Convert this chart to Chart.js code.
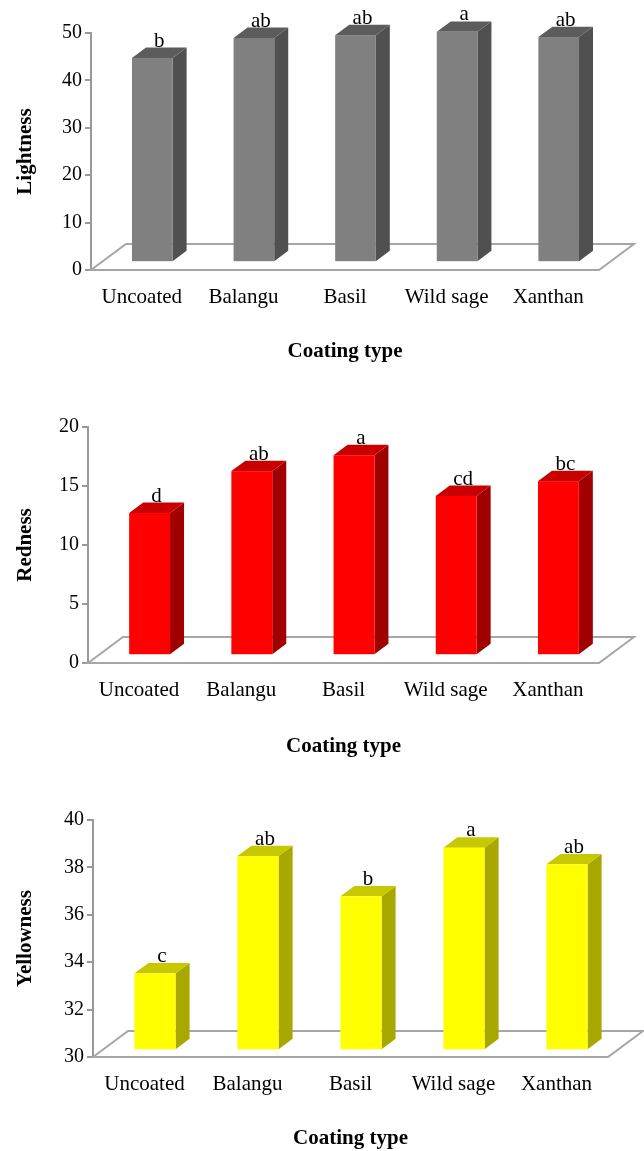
<!DOCTYPE html>
<html>
<head>
<meta charset="utf-8">
<script src="https://cdn.jsdelivr.net/npm/chart.js@4"></script>
<style>
  body { margin: 0; background: #fff; }
  .box { position: absolute; left: 0; width: 644px; }
</style>
</head>
<body>
<div class="box" style="top:0;height:383px"><canvas id="lightChart"></canvas></div>
<div class="box" style="top:383px;height:384px"><canvas id="redChart"></canvas></div>
<div class="box" style="top:767px;height:384px"><canvas id="yellowChart"></canvas></div>
<script>
const coatings = ["Uncoated", "Balangu", "Basil", "Wild sage", "Xanthan"];

const lightness = [43.1, 47.3, 47.9, 48.6, 47.5];
const lightnessLetters = ["b", "ab", "ab", "a", "ab"];

const redness = [12.05, 15.6, 16.95, 13.5, 14.75];
const rednessLetters = ["d", "ab", "a", "cd", "bc"];

const yellowness = [33.2, 38.15, 36.45, 38.5, 37.8];
const yellownessLetters = ["c", "ab", "b", "a", "ab"];

const SERIF = "'Liberation Serif', 'Times New Roman', serif";
Chart.defaults.font.family = SERIF;
Chart.defaults.color = "#000";

// floor depth, bars sit in the middle of it
const FLOOR_DX = 35, FLOOR_DY = -26;

const bars3d = {
  id: "bars3d",
  beforeDatasetsDraw(chart) {
    const { ctx, chartArea: a } = chart;
    ctx.save();
    ctx.beginPath();
    ctx.moveTo(a.left, a.bottom);
    ctx.lineTo(a.left + FLOOR_DX, a.bottom + FLOOR_DY);
    ctx.lineTo(a.right + FLOOR_DX, a.bottom + FLOOR_DY);
    ctx.lineTo(a.right, a.bottom);
    ctx.closePath();
    ctx.fillStyle = "#fff";
    ctx.fill();
    ctx.strokeStyle = "#a6a6a6";
    ctx.lineWidth = 2;
    ctx.stroke();
    ctx.restore();
  },
  afterDatasetsDraw(chart, args, opts) {
    const { ctx, chartArea: a } = chart;
    const ox = FLOOR_DX * 0.3, oy = FLOOR_DY * 0.3;
    const dx = FLOOR_DX * 0.4, dy = FLOOR_DY * 0.4;
    ctx.save();
    chart.getDatasetMeta(0).data.forEach((bar, i) => {
      const { x, y, base, width } = bar.getProps(["x", "y", "base", "width"], true);
      const l = x - width / 2 + ox, r = x + width / 2 + ox;
      const t = y + oy, b = Math.min(base, a.bottom) + oy;
      // side face
      ctx.fillStyle = opts.side;
      ctx.beginPath();
      ctx.moveTo(r, t); ctx.lineTo(r + dx, t + dy); ctx.lineTo(r + dx, b + dy); ctx.lineTo(r, b);
      ctx.closePath(); ctx.fill();
      // top face
      ctx.fillStyle = opts.top;
      ctx.beginPath();
      ctx.moveTo(l, t); ctx.lineTo(l + dx, t + dy); ctx.lineTo(r + dx, t + dy); ctx.lineTo(r, t);
      ctx.closePath(); ctx.fill();
      // front face
      ctx.fillStyle = opts.front;
      ctx.fillRect(l, t, r - l, b - t);
      // significance letter
      ctx.fillStyle = "#000";
      ctx.font = "21px " + SERIF;
      ctx.textAlign = "center";
      ctx.textBaseline = "alphabetic";
      ctx.fillText(opts.letters[i], x + ox + dx / 2, t + dy - 1);
    });
    ctx.restore();
  },
};

function makeChart(id, values, letters, faces, yTitle, yMin, yMax, step, axisW, xH, pad) {
  return new Chart(document.getElementById(id), {
    type: "bar",
    data: {
      labels: coatings,
      datasets: [{
        data: values,
        backgroundColor: "rgba(0,0,0,0)",
        barPercentage: 0.4,
        categoryPercentage: 1,
      }],
    },
    options: {
      responsive: true,
      maintainAspectRatio: false,
      animation: false,
      layout: { padding: pad },
      plugins: {
        legend: { display: false },
        tooltip: { enabled: false },
        bars3d: { ...faces, letters: letters },
      },
      scales: {
        x: {
          grid: { display: false, drawTicks: false },
          border: { display: false },
          ticks: { color: "#000", font: { size: 21 }, padding: 15 },
          title: {
            display: true, text: "Coating type", color: "#000", padding: { bottom: -2 },
            font: { size: 21, weight: "bold" },
          },
          afterFit(s) { s.height = xH; },
        },
        y: {
          min: yMin,
          max: yMax,
          ticks: { stepSize: step, color: "#000", font: { size: 20 }, padding: 3 },
          grid: { drawOnChartArea: false, tickLength: 6, color: "#999", lineWidth: 2 },
          border: { color: "#999", width: 2 },
          title: {
            display: true, text: yTitle, color: "#000", padding: { top: 13 },
            font: { size: 21, weight: "bold" },
          },
          afterFit(s) { s.width = axisW; },
        },
      },
    },
    plugins: [bars3d],
  });
}

makeChart("lightChart", lightness, lightnessLetters,
  { front: "#808080", side: "#505050", top: "#5c5c5c" },
  "Lightness", 0, 50, 10, 91, 92.6, { top: 33, right: 45, bottom: 20.4, left: 0 });

makeChart("redChart", redness, rednessLetters,
  { front: "#ff0000", side: "#a00000", top: "#c80000" },
  "Redness", 0, 20, 5, 88, 94.6, { top: 44, right: 45, bottom: 9.4, left: 0 });

makeChart("yellowChart", yellowness, yellownessLetters,
  { front: "#ffff00", side: "#a8a800", top: "#c8c800" },
  "Yellowness", 30, 40, 2, 93, 92.6, { top: 53, right: 36, bottom: 1.4, left: 0 });
</script>
</body>
</html>
